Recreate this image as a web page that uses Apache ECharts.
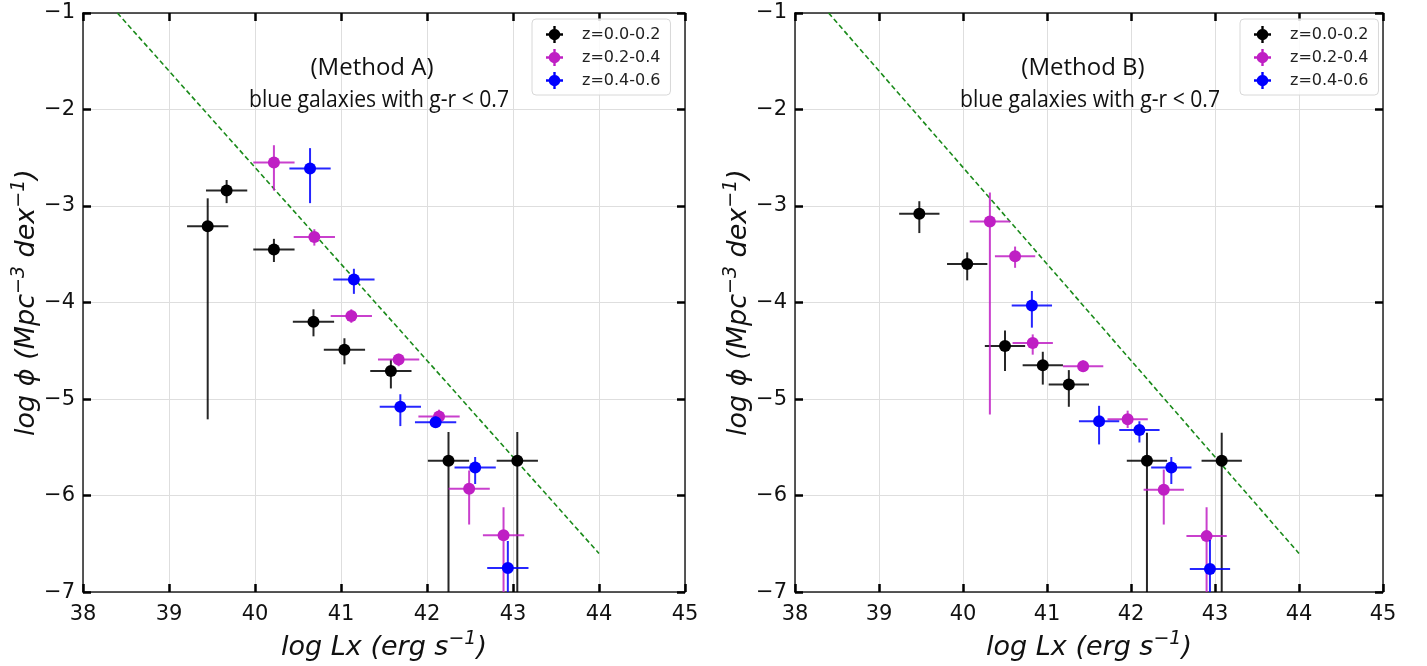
<!DOCTYPE html>
<html>
<head>
<meta charset="utf-8">
<script src="https://cdn.jsdelivr.net/npm/echarts@6/dist/echarts.min.js"></script>
<style>
html,body{margin:0;padding:0;background:#fff;}
#chart{width:1427px;height:666px;}
</style>
</head>
<body>
<div id="chart"></div>
<script>
// ---- data: each row = [log Lx, log phi, x error, y error down, y error up] ----
var seriesNames = ['z=0.0-0.2', 'z=0.2-0.4', 'z=0.4-0.6'];
var seriesColors = ['#000000', '#bf1fc4', '#0000ff'];

var methodA_z00_02 = [
  [39.45, -3.21, 0.24, 2.00, 0.29],
  [39.67, -2.84, 0.24, 0.13, 0.11],
  [40.22, -3.45, 0.24, 0.13, 0.11],
  [40.68, -4.20, 0.24, 0.15, 0.13],
  [41.04, -4.49, 0.24, 0.15, 0.12],
  [41.58, -4.71, 0.24, 0.18, 0.12],
  [42.25, -5.64, 0.24, 3.00, 0.30],
  [43.05, -5.64, 0.24, 3.00, 0.30]
];
var methodA_z02_04 = [
  [40.22, -2.55, 0.24, 0.29, 0.18],
  [40.69, -3.32, 0.24, 0.09, 0.08],
  [41.12, -4.14, 0.24, 0.07, 0.07],
  [41.67, -4.59, 0.24, 0.07, 0.06],
  [42.14, -5.18, 0.24, 0.07, 0.07],
  [42.49, -5.93, 0.24, 0.37, 0.19],
  [42.89, -6.41, 0.24, 3.00, 0.29]
];
var methodA_z04_06 = [
  [40.64, -2.61, 0.24, 0.36, 0.21],
  [41.15, -3.76, 0.24, 0.15, 0.11],
  [41.69, -5.08, 0.24, 0.20, 0.13],
  [42.10, -5.24, 0.24, 0.06, 0.06],
  [42.56, -5.71, 0.24, 0.17, 0.11],
  [42.94, -6.75, 0.24, 3.00, 0.28]
];

var methodB_z00_02 = [
  [39.48, -3.08, 0.24, 0.20, 0.13],
  [40.05, -3.60, 0.24, 0.17, 0.12],
  [40.50, -4.45, 0.24, 0.26, 0.16],
  [40.95, -4.65, 0.24, 0.20, 0.14],
  [41.26, -4.85, 0.24, 0.23, 0.15],
  [42.19, -5.64, 0.24, 3.00, 0.29],
  [43.08, -5.64, 0.24, 3.00, 0.29]
];
var methodB_z02_04 = [
  [40.32, -3.16, 0.24, 2.00, 0.30],
  [40.62, -3.52, 0.24, 0.12, 0.10],
  [40.83, -4.42, 0.24, 0.12, 0.09],
  [41.43, -4.66, 0.24, 0.06, 0.06],
  [41.96, -5.21, 0.24, 0.09, 0.09],
  [42.39, -5.94, 0.24, 0.36, 0.21],
  [42.90, -6.42, 0.24, 3.00, 0.30]
];
var methodB_z04_06 = [
  [40.82, -4.03, 0.24, 0.23, 0.15],
  [41.62, -5.23, 0.24, 0.24, 0.16],
  [42.10, -5.32, 0.24, 0.13, 0.09],
  [42.48, -5.71, 0.24, 0.17, 0.11],
  [42.94, -6.76, 0.24, 3.00, 0.30]
];

// reference dashed line (same in both panels)
var refLine = [[38.4, -1.0], [44.0, -6.6]];

var xTicks = [38, 39, 40, 41, 42, 43, 44, 45];
var yTicks = [-7, -6, -5, -4, -3, -2, -1];
var panelTitles = ['(Method A)', '(Method B)'];
var panelSubtitle = 'blue galaxies with g-r < 0.7';
var xAxisTitle = '{a|log Lx (erg s}{s|\u22121}{a|)}';
var yAxisTitle = '{a|log \u03D5 (Mpc}{s|\u22123}{a| dex}{s|\u22121}{a|)}';

// ---- chart ----
var tickFont = 'DejaVu Sans';
function minusFmt(v){ return String(v).replace('-', '\u2212'); }

function renderErr(params, api) {
  var x = api.value(0), y = api.value(1), xe = api.value(2), yd = api.value(3), yu = api.value(4);
  var c = api.coord([x, y]);
  var l = api.coord([x - xe, y]);
  var r = api.coord([x + xe, y]);
  var t = api.coord([x, y + yu]);
  var b = api.coord([x, y - yd]);
  var color = api.visual('color');
  var ls = {stroke: color, lineWidth: 2, opacity: 0.85};
  return {
    type: 'group',
    children: [
      {type: 'line', shape: {x1: l[0], y1: l[1], x2: r[0], y2: r[1]}, style: ls},
      {type: 'line', shape: {x1: t[0], y1: t[1], x2: b[0], y2: b[1]}, style: ls},
      {type: 'circle', shape: {cx: c[0], cy: c[1], r: 6}, style: {fill: color}}
    ]
  };
}

var grids = [
  {left: 83, top: 13, width: 602, height: 582},
  {left: 795, top: 13, width: 588, height: 582}
];

var nameStyle = {
  fontFamily: tickFont, fontStyle: 'italic', color: '#111',
  rich: {
    a: {fontFamily: tickFont, fontStyle: 'italic', fontSize: 27, lineHeight: 35, color: '#111'},
    s: {fontFamily: tickFont, fontStyle: 'italic', fontSize: 19, lineHeight: 19, verticalAlign: 'top', color: '#111'}
  }
};

var xAxes = [], yAxes = [];
grids.forEach(function(g, i){
  var base = {
    gridIndex: i, type: 'value', min: 38, max: 45, interval: 1,
    axisLine: {show: true, onZero: false, lineStyle: {color: '#222', width: 1.5}},
    axisTick: {show: true, inside: true, length: 8, lineStyle: {color: '#000', width: 2.5}}
  };
  xAxes.push(Object.assign({}, base, {
    position: 'bottom',
    axisLabel: {show: true, color: '#111', fontFamily: tickFont, fontSize: 21, margin: 12},
    splitLine: {show: true, lineStyle: {color: '#dedede', width: 1}},
    name: xAxisTitle, nameLocation: 'middle', nameGap: 35,
    nameTextStyle: nameStyle
  }));
  xAxes.push(Object.assign({}, base, {
    position: 'top', axisLabel: {show: false}, splitLine: {show: false}
  }));
  var ybase = {
    gridIndex: i, type: 'value', min: -7, max: -1, interval: 1,
    axisLine: {show: true, onZero: false, lineStyle: {color: '#222', width: 1.5}},
    axisTick: {show: true, inside: true, length: 8, lineStyle: {color: '#000', width: 2.5}}
  };
  yAxes.push(Object.assign({}, ybase, {
    position: 'left',
    axisLabel: {show: true, color: '#111', fontFamily: tickFont, fontSize: 21, margin: 8, formatter: minusFmt},
    splitLine: {show: true, lineStyle: {color: '#dedede', width: 1}},
    name: yAxisTitle, nameLocation: 'middle', nameGap: 38, nameRotate: 90,
    nameTextStyle: nameStyle
  }));
  yAxes.push(Object.assign({}, ybase, {
    position: 'right', axisLabel: {show: false}, splitLine: {show: false}
  }));
});

var panelData = [
  [methodA_z00_02, methodA_z02_04, methodA_z04_06],
  [methodB_z00_02, methodB_z02_04, methodB_z04_06]
];

var series = [];
panelData.forEach(function(sets, p){
  series.push({
    type: 'line', name: 'ref' + p, xAxisIndex: p * 2, yAxisIndex: p * 2,
    data: refLine, symbol: 'none', silent: true, z: 1,
    lineStyle: {color: '#1a8a1a', width: 1.6, type: [5, 3]}
  });
  sets.forEach(function(d, k){
    series.push({
      type: 'custom', name: seriesNames[k], xAxisIndex: p * 2, yAxisIndex: p * 2,
      coordinateSystem: 'cartesian2d', renderItem: renderErr, clip: true,
      encode: {x: 0, y: 1}, data: d, z: 3 + k,
      itemStyle: {color: seriesColors[k]}
    });
  });
});

var legendIcon = 'path://M1.6,5 A3.4,3.4 0 1,1 8.4,5 A3.4,3.4 0 1,1 1.6,5 Z M0,4.3 L10,4.3 L10,5.7 L0,5.7 Z M4.3,0 L5.7,0 L5.7,10 L4.3,10 Z';
function makeLegend(left){
  return {
    orient: 'vertical', left: left, top: 19,
    padding: [7, 10, 6, 14], itemGap: 6, itemWidth: 17, itemHeight: 17,
    borderColor: '#d8d8d8', borderWidth: 1, borderRadius: 4, backgroundColor: 'rgba(255,255,255,0.85)',
    textStyle: {fontFamily: tickFont, fontSize: 16, color: '#222', padding: [0, 0, 0, 14], lineHeight: 17},
    data: seriesNames.map(function(n){ return {name: n, icon: legendIcon}; })
  };
}

var graphics = [];
var titleCenters = [[372, 379], [1083, 1090]];
panelTitles.forEach(function(t, i){
  graphics.push({type: 'text', x: titleCenters[i][0], y: 68, z: 10,
    style: {text: t, font: '24px "Open Sans"', fill: '#111', align: 'center', verticalAlign: 'middle', textAlign: 'center', textVerticalAlign: 'middle'}});
  graphics.push({type: 'text', x: titleCenters[i][1], y: 100, z: 10, scaleX: 0.88,
    style: {text: panelSubtitle, font: '24px "Open Sans"', fill: '#111', align: 'center', verticalAlign: 'middle', textAlign: 'center', textVerticalAlign: 'middle'}});
});

var chart = echarts.init(document.getElementById('chart'), null, {renderer: 'canvas'});
chart.setOption({
  animation: false,
  backgroundColor: '#fff',
  grid: grids,
  xAxis: xAxes,
  yAxis: yAxes,
  legend: [makeLegend(532), makeLegend(1240)],
  graphic: graphics,
  series: series
});
</script>
</body>
</html>
